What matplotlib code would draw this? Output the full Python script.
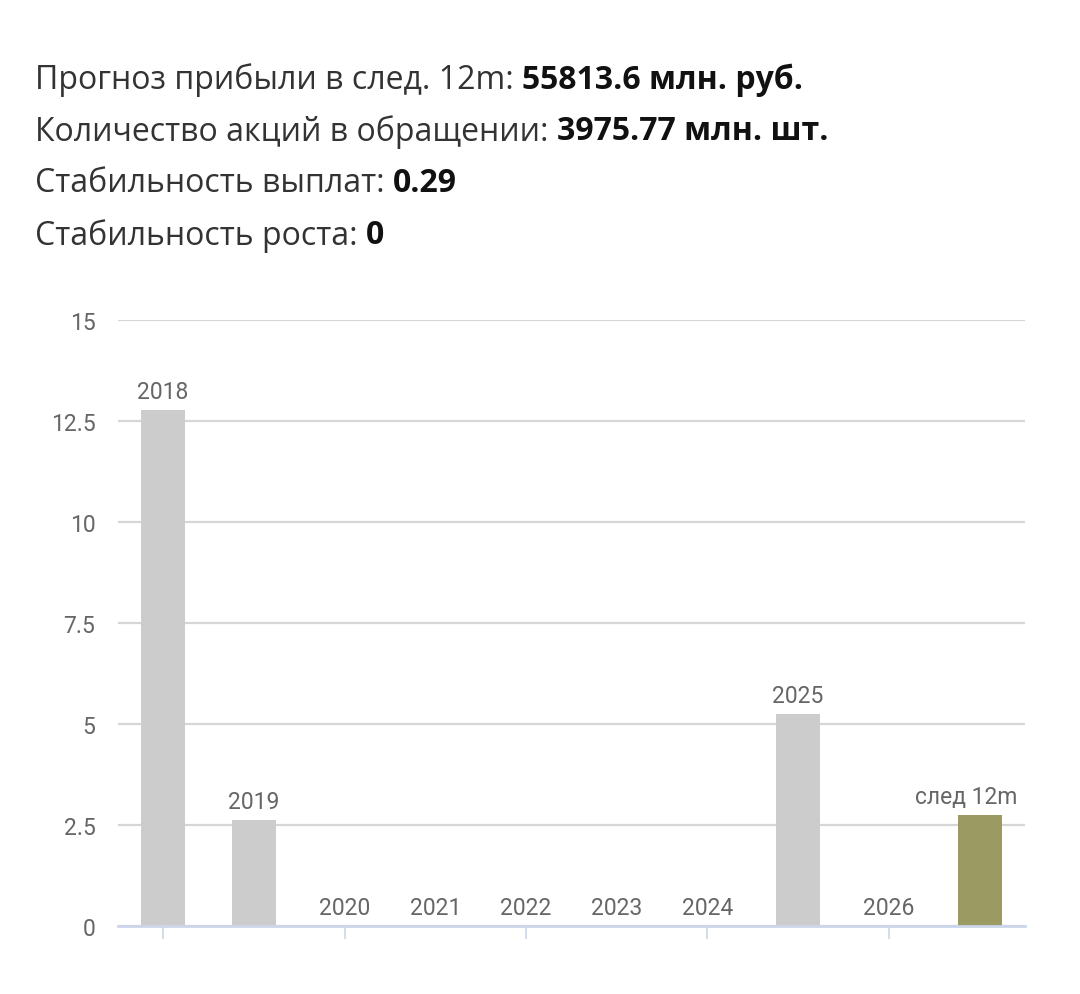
import matplotlib.pyplot as plt

categories = ['2018', '2019', '2020', '2021', '2022', '2023', '2024', '2025', '2026', 'след 12m']
values = [12.78, 2.62, 0, 0, 0, 0, 0, 5.24, 0, 2.74]
colors = ['#cccccc'] * 9 + ['#9a9a62']

header_rows = [
    ('Прогноз прибыли в след. 12m: ', '55813.6 млн. руб.'),
    ('Количество акций в обращении: ', '3975.77 млн. шт.'),
    ('Стабильность выплат: ', '0.29'),
    ('Стабильность роста: ', '0'),
]
yticks = [0, 2.5, 5, 7.5, 10, 12.5, 15]
ytick_labels = ['0', '2.5', '5', '7.5', '10', '12.5', '15']

plt.rcParams['font.family'] = ['Roboto', 'DejaVu Sans']

fig = plt.figure(figsize=(10.8, 9.95), dpi=100)
ax = fig.add_axes([0.109, 0.0683, 0.840, 0.6090])

x = list(range(len(categories)))
ax.bar(x, values, width=0.485, color=colors, zorder=3)
for xi, v, c in zip(x, values, categories):
    if xi == len(categories) - 1:
        # label kept inside the plot area, like highcharts does
        ax.annotate(c, (xi, v), xytext=(27, 5), textcoords='offset points',
                    ha='right', va='bottom', fontsize=16.5, color='#666666', zorder=4)
    else:
        ax.annotate(c, (xi, v), xytext=(0, 5), textcoords='offset points',
                    ha='center', va='bottom', fontsize=16.5, color='#666666', zorder=4)

ax.set_xlim(-0.5, 9.5)
ax.set_ylim(0, 15)
ax.set_yticks(yticks)
ax.set_yticklabels(ytick_labels)
ax.set_xticks([0, 2, 4, 6, 8])
ax.set_xticklabels([])
ax.tick_params(axis='y', length=0, pad=16, labelsize=16.5, labelcolor='#666666')
ax.tick_params(axis='x', length=9, width=1.2, color='#ccd6eb', direction='out')
ax.grid(axis='y', color='#d6d6d6', linewidth=1.6, zorder=0)
for s in ['top', 'right', 'left']:
    ax.spines[s].set_visible(False)
ax.spines['bottom'].set_color('#ccd6eb')
ax.spines['bottom'].set_linewidth(2)
ax.spines['bottom'].set_zorder(5)

# header lines with bold values
fig.canvas.draw()
renderer = fig.canvas.get_renderer()
y0 = 1 - 80 / 995
for i, (label, val) in enumerate(header_rows):
    y = y0 - i * 52 / 995
    t = fig.text(35 / 1080, y, label, fontsize=23, color='#333333',
                 family=['Open Sans', 'DejaVu Sans'], va='center')
    bb = t.get_window_extent(renderer)
    fig.text(bb.x1 / 1080, y, val, fontsize=23, color='#111111', fontweight='bold',
             family=['Open Sans', 'DejaVu Sans'], va='center')

fig.savefig('out.png', dpi=100, facecolor='white')
